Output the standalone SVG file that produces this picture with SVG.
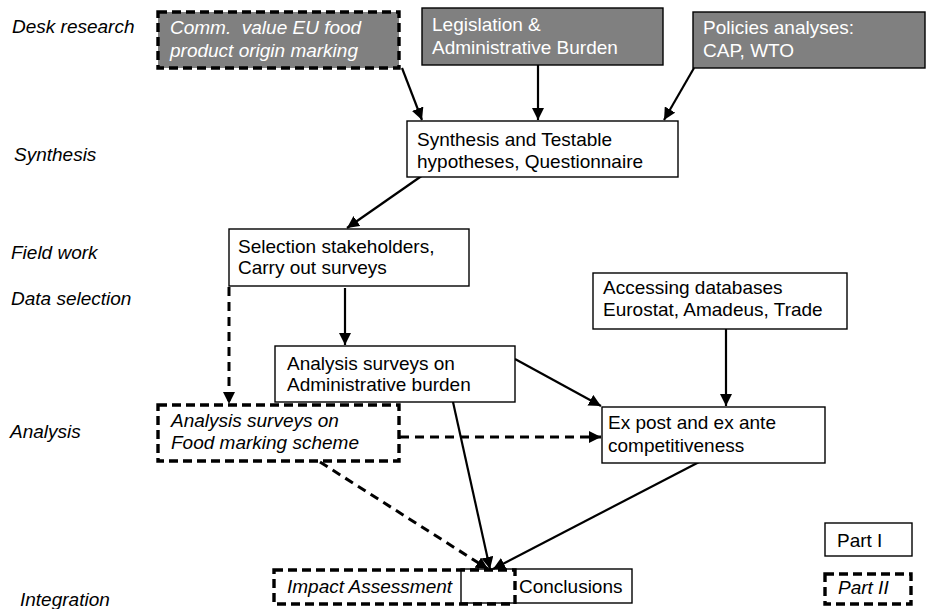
<svg xmlns="http://www.w3.org/2000/svg" width="927" height="609" viewBox="0 0 927 609">
<style>
text{font-family:"Liberation Sans",Arial,sans-serif;font-size:19px;fill:#000}
.lbl{font-style:italic}
.it{font-style:italic}
.wt{fill:#fff}
.box{fill:#fff;stroke:#000;stroke-width:1.4}
.nbox{fill:none;stroke:#000;stroke-width:1.4}
.gbox{fill:#808080;stroke:#000;stroke-width:1.4}
.dbox{fill:none;stroke:#000;stroke-width:3.4;stroke-dasharray:9 5}
.gdbox{fill:#808080;stroke:#000;stroke-width:3.4;stroke-dasharray:9 5}
.c{fill:none;stroke:#000;stroke-width:2.2}
.cd{fill:none;stroke:#000;stroke-width:3;stroke-dasharray:9 6}
</style>
<defs>
<marker id="ah" viewBox="0 0 10 10" refX="10" refY="5" markerWidth="5.5" markerHeight="5.5" markerUnits="strokeWidth" orient="auto">
<path d="M0,0 L10,5 L0,10 z" fill="#000"/>
</marker>
<marker id="ahd" viewBox="0 0 10 10" refX="10" refY="5" markerWidth="4" markerHeight="4" markerUnits="strokeWidth" orient="auto">
<path d="M0,0 L10,5 L0,10 z" fill="#000"/>
</marker>
</defs>
<rect width="927" height="609" fill="#fff"/>

<g id="phase-labels">
<text class="lbl" x="12" y="33">Desk research</text>
<text class="lbl" x="14" y="161">Synthesis</text>
<text class="lbl" x="11" y="259">Field work</text>
<text class="lbl" x="11" y="305">Data selection</text>
<text class="lbl" x="10" y="438">Analysis</text>
<text class="lbl" x="20" y="606">Integration</text>
</g>

<g id="connectors">
<line class="c" x1="402" y1="68" x2="422" y2="120" marker-end="url(#ah)"/>
<line class="c" x1="538" y1="65" x2="538" y2="120" marker-end="url(#ah)"/>
<line class="c" x1="694" y1="68" x2="664" y2="120" marker-end="url(#ah)"/>
<line class="c" x1="423" y1="175" x2="347" y2="228" marker-end="url(#ah)"/>
<line class="c" x1="345" y1="288" x2="345" y2="345" marker-end="url(#ah)"/>
<line class="cd" x1="229" y1="287" x2="229" y2="404" marker-end="url(#ahd)"/>
<line class="c" x1="726" y1="329" x2="726" y2="406" marker-end="url(#ah)"/>
<line class="c" x1="515" y1="359" x2="601" y2="406" marker-end="url(#ah)"/>
<line class="cd" x1="400" y1="437" x2="601" y2="437" marker-end="url(#ahd)"/>
<line class="c" x1="453" y1="402" x2="490" y2="569" marker-end="url(#ah)"/>
<line class="c" x1="703" y1="460" x2="493" y2="569" marker-end="url(#ah)"/>
<line class="cd" x1="320" y1="462" x2="488" y2="569" marker-end="url(#ahd)"/>
</g>

<g id="comm-value">
<rect class="gdbox" x="158" y="12" width="241" height="56"/>
<text class="it wt" x="170" y="34" xml:space="preserve">Comm.  value EU food</text>
<text class="it wt" x="170" y="57">product origin marking</text>
</g>
<g id="legislation">
<rect class="gbox" x="422" y="8" width="241" height="57"/>
<text class="wt" x="432" y="31">Legislation &amp;</text>
<text class="wt" x="432" y="54">Administrative Burden</text>
</g>
<g id="policies">
<rect class="gbox" x="693" y="12" width="232" height="56"/>
<text class="wt" x="703" y="34">Policies analyses:</text>
<text class="wt" x="703" y="57">CAP, WTO</text>
</g>
<g id="synthesis">
<rect class="box" x="407" y="121" width="271" height="56"/>
<text x="417" y="146">Synthesis and Testable</text>
<text x="417" y="168">hypotheses, Questionnaire</text>
</g>
<g id="selection">
<rect class="box" x="229" y="229" width="240" height="57"/>
<text x="238" y="253">Selection stakeholders,</text>
<text x="238" y="274">Carry out surveys</text>
</g>
<g id="accessing">
<rect class="box" x="593" y="273" width="254" height="56"/>
<text x="603" y="294">Accessing databases</text>
<text x="603" y="316">Eurostat, Amadeus, Trade</text>
</g>
<g id="analysis-admin">
<rect class="box" x="275" y="346" width="240" height="56"/>
<text x="287" y="370">Analysis surveys on</text>
<text x="287" y="391">Administrative burden</text>
</g>
<g id="analysis-food">
<rect class="dbox" x="158" y="405" width="241" height="56"/>
<text class="it" x="171" y="427">Analysis surveys on</text>
<text class="it" x="171" y="449">Food marking scheme</text>
</g>
<g id="expost">
<rect class="box" x="602" y="407" width="223" height="56"/>
<text x="608" y="429">Ex post and ex ante</text>
<text x="608" y="452">competitiveness</text>
</g>
<g id="impact-conclusions">
<rect class="nbox" x="461" y="569" width="171" height="34"/>
<rect class="dbox" x="274" y="570" width="241" height="34"/>
<text class="it" x="287" y="593">Impact Assessment</text>
<text x="519" y="593">Conclusions</text>
</g>
<g id="legend">
<rect class="box" x="825" y="523" width="87" height="33"/>
<text x="837" y="547">Part I</text>
<rect class="dbox" x="825" y="574" width="86" height="30"/>
<text class="it" x="838" y="594">Part II</text>
</g>
</svg>
